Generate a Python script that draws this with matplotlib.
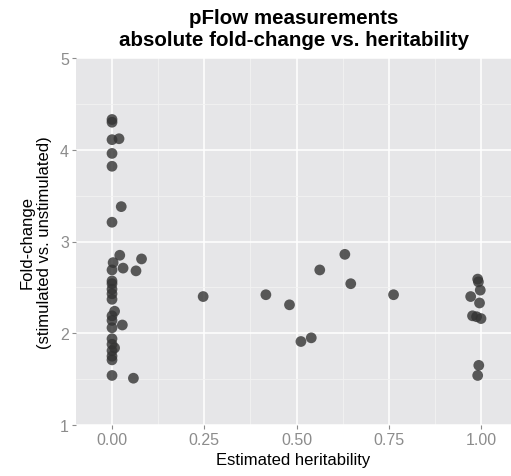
import matplotlib
matplotlib.use("Agg")
import matplotlib.pyplot as plt
from matplotlib.ticker import MultipleLocator

plt.rcParams['font.family'] = ['Liberation Sans', 'DejaVu Sans']

heritability = [
    0.0, 0.0, 0.0, 0.019, 0.0, 0.0, 0.025, 0.0,
    0.021, 0.080, 0.003, 0.030, 0.065, 0.0,
    0.0, 0.0, 0.0, 0.0, 0.0, 0.007, 0.0, 0.0, 0.028, 0.0,
    0.0, 0.0, 0.007, 0.0, 0.0, 0.0, 0.0, 0.058,
    0.247, 0.417, 0.481, 0.512, 0.540, 0.563, 0.631, 0.647, 0.763,
    0.991, 0.993, 0.998, 0.972, 0.996, 0.977, 0.988, 1.000, 0.994, 0.991,
]
fold_change = [
    4.33, 4.30, 4.11, 4.12, 3.96, 3.82, 3.38, 3.21,
    2.85, 2.81, 2.77, 2.71, 2.68, 2.69,
    2.57, 2.54, 2.48, 2.43, 2.37, 2.24, 2.19, 2.14, 2.09, 2.06,
    1.94, 1.88, 1.84, 1.81, 1.75, 1.71, 1.54, 1.51,
    2.40, 2.42, 2.31, 1.91, 1.95, 2.69, 2.86, 2.54, 2.42,
    2.59, 2.56, 2.47, 2.40, 2.33, 2.19, 2.18, 2.16, 1.65, 1.54,
]
x_ticks = [0.0, 0.25, 0.5, 0.75, 1.0]
x_tick_labels = ["0.00", "0.25", "0.50", "0.75", "1.00"]
y_ticks = [1, 2, 3, 4, 5]

W, H = 511, 477
fig = plt.figure(figsize=(W / 100, H / 100), dpi=100)
ax = fig.add_axes([76 / W, (H - 426) / H, (W - 76) / W, (426 - 59) / H])
ax.set_facecolor('#E6E6E8')
ax.set_xlim(-0.0976, 1.0813)
ax.set_ylim(1, 5)
ax.set_xticks(x_ticks)
ax.set_xticklabels(x_tick_labels)
ax.set_yticks(y_ticks)
ax.xaxis.set_minor_locator(MultipleLocator(0.125))
ax.yaxis.set_minor_locator(MultipleLocator(0.5))
ax.grid(which='major', color='white', linewidth=1.1)
ax.grid(which='minor', color='#F2F2F2', linewidth=0.6)
ax.set_axisbelow(True)
for s in ax.spines.values():
    s.set_visible(False)
ax.tick_params(which='major', length=3, width=0.8, color='#8C8C8C',
               labelcolor='#8C8C8C', labelsize=11.5, pad=2)
ax.tick_params(which='minor', length=0)

ax.scatter(heritability, fold_change, s=60, color='#333333', alpha=0.8,
           edgecolors='none', zorder=3)

ax.set_xlabel('Estimated heritability', fontsize=12, labelpad=4)
ax.set_ylabel('Fold-change\n(stimulated vs. unstimulated)', fontsize=12,
              labelpad=6, linespacing=1.2)
fig.text(0.5 * (76 + 511) / W, (H - 29.5) / H,
         'pFlow measurements\nabsolute fold-change vs. heritability',
         ha='center', va='center', fontsize=14.8, fontweight='bold',
         linespacing=1.22)

fig.savefig('out.png', dpi=100)
